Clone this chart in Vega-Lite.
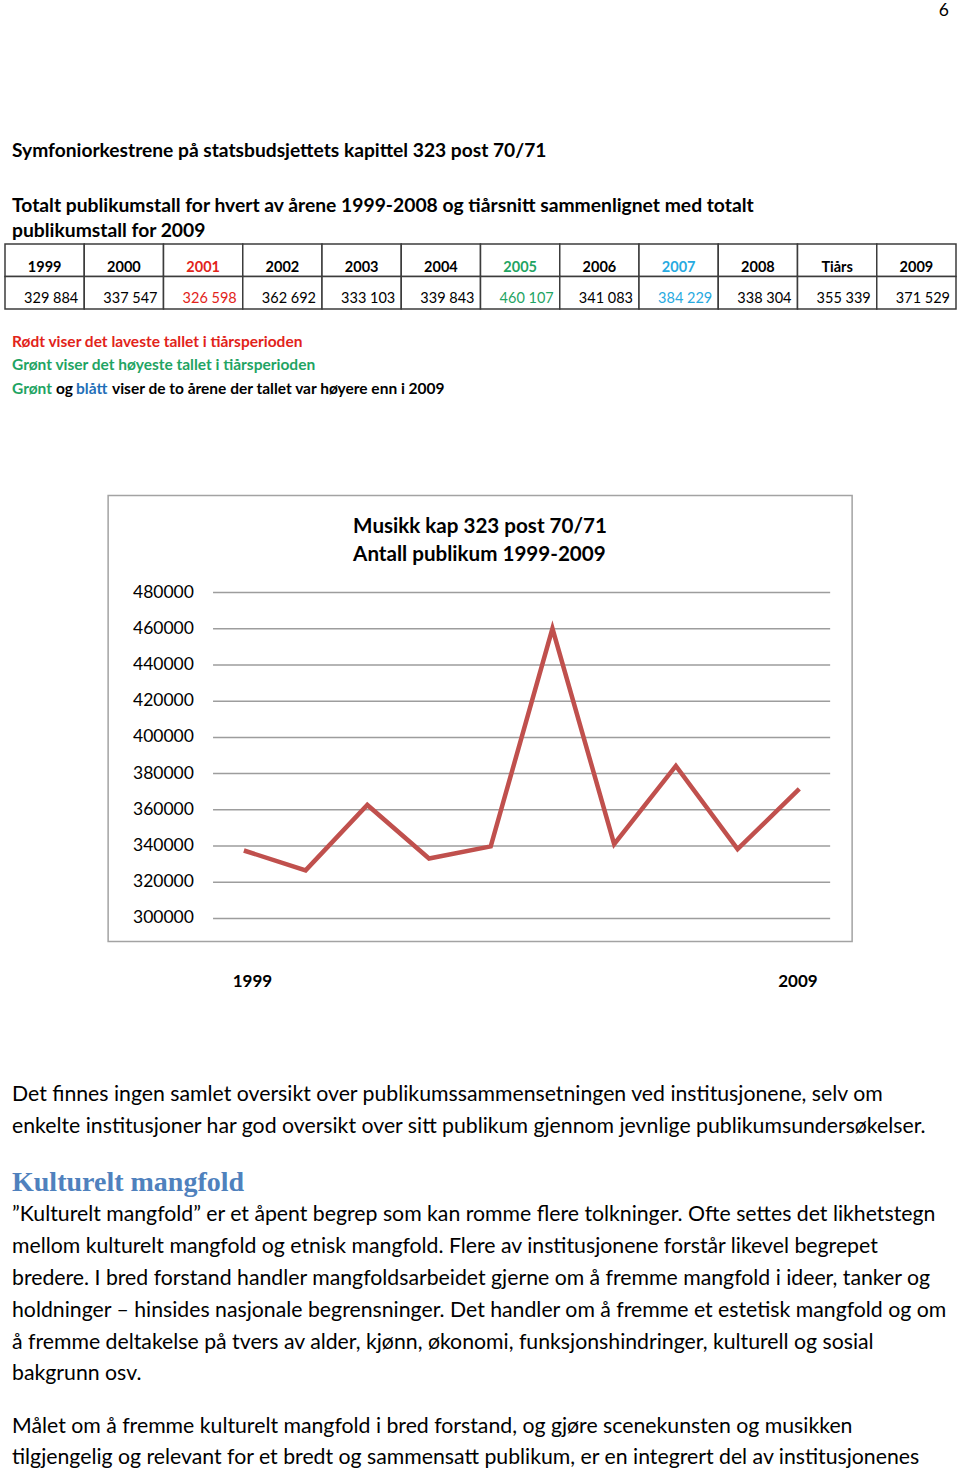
{
  "$schema": "https://vega.github.io/schema/vega-lite/v6.json",
  "padding": {"left": 4, "top": 0, "right": 0, "bottom": 0},
  "background": "white",
  "spacing": 119,
  "config": {
    "view": {"stroke": null},
    "locale": {"number": {"decimal": ",", "thousands": " ", "grouping": [3], "currency": ["", " kr"]}}
  },
  "vconcat": [
    {
      "width": 951,
      "height": {"step": 21},
      "data": {"values": [{"line": 1, "text": "6"}]},
      "mark": {"type": "text", "align": "right", "baseline": "middle", "dx": -7, "font": "Lato", "fontSize": 17.5, "color": "#000000"},
      "encoding": {
        "y": {"field": "line", "type": "ordinal", "axis": null},
        "x": {"datum": 1, "type": "quantitative", "scale": {"domain": [0, 1]}, "axis": null},
        "text": {"field": "text"}
      }
    },
    {
      "spacing": 32,
      "vconcat": [
        {
          "width": 951,
          "height": {"step": 22},
          "data": {"values": [{"line": 1, "text": "Symfoniorkestrene på statsbudsjettets kapittel 323 post 70/71"}]},
          "mark": {"type": "text", "align": "left", "baseline": "middle", "dx": 7, "font": "Lato", "fontWeight": "bold", "fontSize": 19.2, "color": "#000000"},
          "encoding": {
            "y": {"field": "line", "type": "ordinal", "axis": null},
            "x": {"datum": 0, "type": "quantitative", "scale": {"domain": [0, 1]}, "axis": null},
            "text": {"field": "text"}
          }
        },
        {
          "spacing": 0,
          "vconcat": [
            {
              "width": 951,
              "height": {"step": 24.5},
              "data": {"values": [
                {"line": 1, "text": "Totalt publikumstall for hvert av årene 1999-2008 og tiårsnitt sammenlignet med totalt"},
                {"line": 2, "text": "publikumstall for 2009"}
              ]},
              "mark": {"type": "text", "align": "left", "baseline": "middle", "dx": 7, "font": "Lato", "fontWeight": "bold", "fontSize": 19.3, "color": "#000000"},
              "encoding": {
                "y": {"field": "line", "type": "ordinal", "axis": null},
                "x": {"datum": 0, "type": "quantitative", "scale": {"domain": [0, 1]}, "axis": null},
                "text": {"field": "text"}
              }
            },
            {
              "spacing": 20,
              "vconcat": [
                {
                  "width": 951,
                  "height": 65,
                  "data": {"values": [
                    {"col": "1999", "visitors": 329884, "kind": "normal"},
                    {"col": "2000", "visitors": 337547, "kind": "normal"},
                    {"col": "2001", "visitors": 326598, "kind": "lowest"},
                    {"col": "2002", "visitors": 362692, "kind": "normal"},
                    {"col": "2003", "visitors": 333103, "kind": "normal"},
                    {"col": "2004", "visitors": 339843, "kind": "normal"},
                    {"col": "2005", "visitors": 460107, "kind": "highest"},
                    {"col": "2006", "visitors": 341083, "kind": "normal"},
                    {"col": "2007", "visitors": 384229, "kind": "above2009"},
                    {"col": "2008", "visitors": 338304, "kind": "normal"},
                    {"col": "Tiårs", "visitors": 355339, "kind": "normal"},
                    {"col": "2009", "visitors": 371529, "kind": "normal"}
                  ]},
                  "encoding": {
                    "x": {"field": "col", "type": "nominal", "sort": null, "scale": {"paddingInner": 0, "paddingOuter": 0}, "axis": null}
                  },
                  "layer": [
                    {
                      "mark": {"type": "rect", "fill": "white", "stroke": "#3c3c3c", "strokeWidth": 1.5},
                      "encoding": {"y": {"datum": "Header", "type": "nominal", "scale": {"domain": ["Header", "Value"], "paddingInner": 0, "paddingOuter": 0}, "axis": null}}
                    },
                    {
                      "mark": {"type": "rect", "fill": "white", "stroke": "#3c3c3c", "strokeWidth": 1.5},
                      "encoding": {"y": {"datum": "Value", "type": "nominal", "axis": null}}
                    },
                    {
                      "mark": {"type": "text", "align": "center", "baseline": "middle", "dy": 2, "font": "Lato", "fontWeight": "bold", "fontSize": 14.5},
                      "encoding": {
                        "y": {"datum": "Header", "type": "nominal", "bandPosition": 0.68, "axis": null},
                        "text": {"field": "col"},
                        "color": {"field": "kind", "type": "nominal", "legend": null, "scale": {"domain": ["normal", "lowest", "highest", "above2009", "above2009label"], "range": ["#000000", "#E2231A", "#1FA463", "#27AAE1", "#1F6FB8"]}}
                      }
                    },
                    {
                      "mark": {"type": "text", "align": "right", "baseline": "middle", "dx": -6, "dy": 1, "font": "Lato", "fontSize": 14.5},
                      "encoding": {
                        "x": {"field": "col", "type": "nominal", "sort": null, "bandPosition": 1, "axis": null},
                        "y": {"datum": "Value", "type": "nominal", "bandPosition": 0.66, "axis": null},
                        "text": {"field": "visitors", "type": "quantitative", "format": ",d"},
                        "color": {"field": "kind", "type": "nominal", "legend": null, "scale": {"domain": ["normal", "lowest", "highest", "above2009", "above2009label"], "range": ["#000000", "#E2231A", "#1FA463", "#27AAE1", "#1F6FB8"]}}
                      }
                    }
                  ]
                },
                {
                  "spacing": 93.5,
                  "vconcat": [
                    {
                      "width": 951,
                      "height": {"step": 23.5},
                      "data": {"values": [
                        {"line": 1, "segment": 1, "text": "Rødt viser det laveste tallet i tiårsperioden", "kind": "lowest"},
                        {"line": 2, "segment": 1, "text": "Grønt viser det høyeste tallet i tiårsperioden", "kind": "highest"},
                        {"line": 3, "segment": 1, "text": "Grønt", "kind": "highest"},
                        {"line": 3, "segment": 2, "text": "og", "kind": "normal"},
                        {"line": 3, "segment": 3, "text": "blått", "kind": "above2009label"},
                        {"line": 3, "segment": 4, "text": "viser de to årene der tallet var høyere enn i 2009", "kind": "normal"}
                      ]},
                      "encoding": {
                        "y": {"field": "line", "type": "ordinal", "axis": null},
                        "x": {"datum": 0, "type": "quantitative", "scale": {"domain": [0, 1]}, "axis": null},
                        "text": {"field": "text"},
                        "color": {"field": "kind", "type": "nominal", "legend": null, "scale": {"domain": ["normal", "lowest", "highest", "above2009", "above2009label"], "range": ["#000000", "#E2231A", "#1FA463", "#27AAE1", "#1F6FB8"]}}
                      },
                      "layer": [
                        {
                          "transform": [{"filter": "datum.segment == 1"}],
                          "mark": {"type": "text", "align": "left", "baseline": "middle", "dx": 7, "font": "Lato", "fontWeight": "bold", "fontSize": 15.5}
                        },
                        {
                          "transform": [{"filter": "datum.segment == 2"}],
                          "mark": {"type": "text", "align": "left", "baseline": "middle", "dx": 51, "font": "Lato", "fontWeight": "bold", "fontSize": 15.5}
                        },
                        {
                          "transform": [{"filter": "datum.segment == 3"}],
                          "mark": {"type": "text", "align": "left", "baseline": "middle", "dx": 71, "font": "Lato", "fontWeight": "bold", "fontSize": 15.5}
                        },
                        {
                          "transform": [{"filter": "datum.segment == 4"}],
                          "mark": {"type": "text", "align": "left", "baseline": "middle", "dx": 107, "font": "Lato", "fontWeight": "bold", "fontSize": 15.5}
                        }
                      ]
                    },
                    {
                      "spacing": 88,
                      "center": true,
                      "vconcat": [
                        {
                          "width": 744,
                          "height": 446,
                          "view": {"stroke": "#a3a3a3", "strokeWidth": 1.5},
                          "layer": [
                            {
                              "data": {"values": [
                                {"tick": 300000}, {"tick": 320000}, {"tick": 340000}, {"tick": 360000}, {"tick": 380000},
                                {"tick": 400000}, {"tick": 420000}, {"tick": 440000}, {"tick": 460000}, {"tick": 480000}
                              ]},
                              "mark": {"type": "rule", "color": "#9d9d9d", "strokeWidth": 1.5},
                              "encoding": {
                                "x": {
                                  "datum": 1999.5, "type": "quantitative",
                                  "scale": {"domain": [1997.8, 2009.856], "nice": false, "zero": false},
                                  "axis": {
                                    "values": [2000.13, 2008.97],
                                    "labelExpr": "datum.value < 2005 ? '1999' : '2009'",
                                    "title": null, "domain": false, "ticks": false, "grid": false,
                                    "labelFont": "Lato", "labelFontWeight": "bold", "labelFontSize": 17, "labelColor": "#000000",
                                    "labelPadding": 32, "labelFlush": false, "labelOverlap": false
                                  }
                                },
                                "x2": {"datum": 2009.5},
                                "y": {"field": "tick", "type": "quantitative", "scale": {"domain": [287300, 533560], "nice": false, "zero": false}, "axis": null}
                              }
                            },
                            {
                              "data": {"values": [
                                {"tick": 300000}, {"tick": 320000}, {"tick": 340000}, {"tick": 360000}, {"tick": 380000},
                                {"tick": 400000}, {"tick": 420000}, {"tick": 440000}, {"tick": 460000}, {"tick": 480000}
                              ]},
                              "mark": {"type": "text", "align": "right", "baseline": "middle", "font": "Lato", "fontSize": 17.5, "color": "#000000"},
                              "encoding": {
                                "x": {"datum": 1999.19, "type": "quantitative"},
                                "y": {"field": "tick", "type": "quantitative", "axis": null},
                                "text": {"field": "tick", "type": "quantitative", "format": "d"}
                              }
                            },
                            {
                              "data": {"values": [{"heading": "Musikk kap 323 post 70/71\nAntall publikum 1999-2009"}]},
                              "mark": {"type": "text", "align": "left", "baseline": "top", "lineBreak": "\n", "lineHeight": 28, "font": "Lato", "fontWeight": "bold", "fontSize": 20.6, "color": "#000000"},
                              "encoding": {
                                "x": {"datum": 2001.77, "type": "quantitative"},
                                "y": {"datum": 521633, "type": "quantitative", "axis": null},
                                "text": {"field": "heading"}
                              }
                            },
                            {
                              "data": {"values": [
                                {"year": 2000, "visitors": 337547},
                                {"year": 2001, "visitors": 326598},
                                {"year": 2002, "visitors": 362692},
                                {"year": 2003, "visitors": 333103},
                                {"year": 2004, "visitors": 339843},
                                {"year": 2005, "visitors": 460107},
                                {"year": 2006, "visitors": 341083},
                                {"year": 2007, "visitors": 384229},
                                {"year": 2008, "visitors": 338304},
                                {"year": 2009, "visitors": 371529}
                              ]},
                              "mark": {"type": "line", "color": "#C0504D", "strokeWidth": 4.5, "strokeJoin": "miter", "strokeCap": "butt"},
                              "encoding": {
                                "x": {"field": "year", "type": "quantitative"},
                                "y": {"field": "visitors", "type": "quantitative", "axis": null}
                              }
                            }
                          ]
                        },
                        {
                          "spacing": 25,
                          "vconcat": [
                            {
                              "width": 951,
                              "height": {"step": 32},
                              "data": {"values": [
                                {"line": 1, "text": "Det finnes ingen samlet oversikt over publikumssammensetningen ved institusjonene, selv om"},
                                {"line": 2, "text": "enkelte institusjoner har god oversikt over sitt publikum gjennom jevnlige publikumsundersøkelser."}
                              ]},
                              "mark": {"type": "text", "align": "left", "baseline": "middle", "dx": 7, "font": "Lato", "fontSize": 21.25, "color": "#000000"},
                              "encoding": {
                                "y": {"field": "line", "type": "ordinal", "axis": null},
                                "x": {"datum": 0, "type": "quantitative", "scale": {"domain": [0, 1]}, "axis": null},
                                "text": {"field": "text"}
                              }
                            },
                            {
                              "spacing": 2,
                              "vconcat": [
                                {
                                  "width": 951,
                                  "height": {"step": 30},
                                  "data": {"values": [{"line": 1, "text": "Kulturelt mangfold"}]},
                                  "mark": {"type": "text", "align": "left", "baseline": "middle", "dx": 7, "font": "Liberation Serif", "fontWeight": "bold", "fontSize": 28, "color": "#4F81BD"},
                                  "encoding": {
                                    "y": {"field": "line", "type": "ordinal", "axis": null},
                                    "x": {"datum": 0, "type": "quantitative", "scale": {"domain": [0, 1]}, "axis": null},
                                    "text": {"field": "text"}
                                  }
                                },
                                {
                                  "spacing": 21,
                                  "vconcat": [
                                    {
                                      "width": 951,
                                      "height": {"step": 31.8},
                                      "data": {"values": [
                                        {"line": 1, "text": "”Kulturelt mangfold” er et åpent begrep som kan romme flere tolkninger. Ofte settes det likhetstegn"},
                                        {"line": 2, "text": "mellom kulturelt mangfold og etnisk mangfold. Flere av institusjonene forstår likevel begrepet"},
                                        {"line": 3, "text": "bredere. I bred forstand handler mangfoldsarbeidet gjerne om å fremme mangfold i ideer, tanker og"},
                                        {"line": 4, "text": "holdninger – hinsides nasjonale begrensninger. Det handler om å fremme et estetisk mangfold og om"},
                                        {"line": 5, "text": "å fremme deltakelse på tvers av alder, kjønn, økonomi, funksjonshindringer, kulturell og sosial"},
                                        {"line": 6, "text": "bakgrunn osv."}
                                      ]},
                                      "mark": {"type": "text", "align": "left", "baseline": "middle", "dx": 7, "font": "Lato", "fontSize": 21.25, "color": "#000000"},
                                      "encoding": {
                                        "y": {"field": "line", "type": "ordinal", "axis": null},
                                        "x": {"datum": 0, "type": "quantitative", "scale": {"domain": [0, 1]}, "axis": null},
                                        "text": {"field": "text"}
                                      }
                                    },
                                    {
                                      "width": 951,
                                      "height": {"step": 31},
                                      "data": {"values": [
                                        {"line": 1, "text": "Målet om å fremme kulturelt mangfold i bred forstand, og gjøre scenekunsten og musikken"},
                                        {"line": 2, "text": "tilgjengelig og relevant for et bredt og sammensatt publikum, er en integrert del av institusjonenes"}
                                      ]},
                                      "mark": {"type": "text", "align": "left", "baseline": "middle", "dx": 7, "font": "Lato", "fontSize": 21.25, "color": "#000000"},
                                      "encoding": {
                                        "y": {"field": "line", "type": "ordinal", "axis": null},
                                        "x": {"datum": 0, "type": "quantitative", "scale": {"domain": [0, 1]}, "axis": null},
                                        "text": {"field": "text"}
                                      }
                                    }
                                  ]
                                }
                              ]
                            }
                          ]
                        }
                      ]
                    }
                  ]
                }
              ]
            }
          ]
        }
      ]
    }
  ]
}
